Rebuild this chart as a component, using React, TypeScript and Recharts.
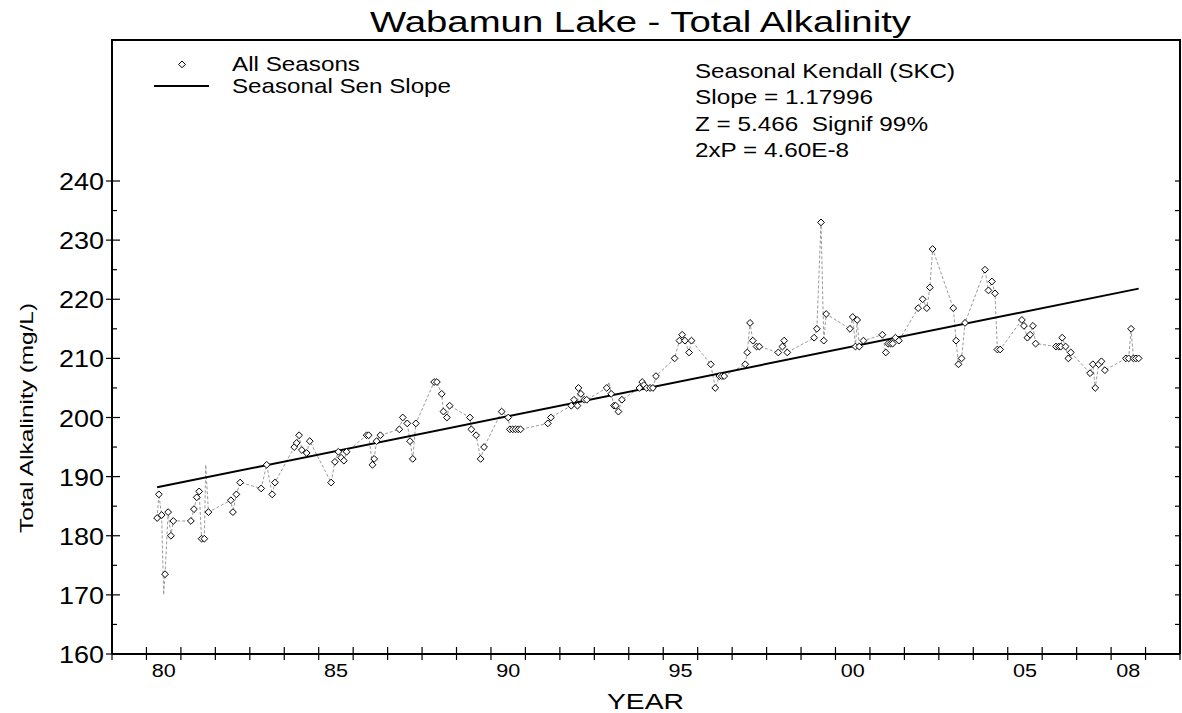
import React from 'react';
import { ComposedChart, Line, Scatter, XAxis, YAxis } from 'recharts';

// sample dates (decimal years) and total alkalinity (mg/L)
const sampleYear = [
  1980.31, 1980.36, 1980.44, 1980.54, 1980.63, 1980.71, 1980.78,
  1981.29, 1981.38, 1981.46, 1981.53, 1981.6, 1981.68, 1981.8,
  1982.45, 1982.51, 1982.61, 1982.72,
  1983.33, 1983.49, 1983.65, 1983.73,
  1984.29, 1984.36, 1984.43, 1984.51, 1984.65, 1984.74,
  1985.36, 1985.47, 1985.57, 1985.65, 1985.73, 1985.81,
  1986.39, 1986.45, 1986.56, 1986.61, 1986.68, 1986.79,
  1987.34, 1987.44, 1987.57, 1987.65, 1987.73, 1987.82,
  1988.35, 1988.43, 1988.57, 1988.62, 1988.72, 1988.8,
  1989.39, 1989.43, 1989.57, 1989.7, 1989.8,
  1990.31, 1990.5, 1990.55, 1990.63, 1990.71, 1990.79, 1990.86,
  1991.65, 1991.74,
  1992.33, 1992.41, 1992.51, 1992.54, 1992.61, 1992.71, 1992.78,
  1993.36, 1993.49, 1993.57, 1993.62, 1993.7, 1993.8,
  1994.31, 1994.39, 1994.44, 1994.52, 1994.62, 1994.7, 1994.79,
  1995.33, 1995.47, 1995.55, 1995.63, 1995.75, 1995.82,
  1996.38, 1996.51, 1996.63, 1996.7, 1996.77,
  1997.38, 1997.44, 1997.52, 1997.6, 1997.71, 1997.79,
  1998.34, 1998.46, 1998.51, 1998.6,
  1999.38, 1999.46, 1999.58, 1999.66, 1999.73,
  2000.42, 2000.5, 2000.58, 2000.63, 2000.69, 2000.81,
  2001.36, 2001.46, 2001.53, 2001.6, 2001.66, 2001.74, 2001.84,
  2002.4, 2002.53, 2002.65, 2002.74, 2002.82,
  2003.42, 2003.5, 2003.57, 2003.66, 2003.76,
  2004.34, 2004.44, 2004.54, 2004.63, 2004.7, 2004.78,
  2005.41, 2005.47, 2005.57, 2005.65, 2005.73, 2005.81,
  2006.4, 2006.48, 2006.54, 2006.58, 2006.68, 2006.76, 2006.83,
  2007.39, 2007.47, 2007.54, 2007.64, 2007.72, 2007.82,
  2008.43, 2008.51, 2008.58, 2008.65, 2008.72, 2008.8,
];

const sampleValue = [
  183, 187, 183.5, 173.5, 184, 180, 182.5,
  182.5, 184.5, 186.5, 187.5, 179.5, 179.5, 184,
  186, 184, 187, 189,
  188, 192, 187, 189,
  195, 195.7, 197, 194.5, 194, 196,
  189, 192.5, 194.2, 193.2, 192.7, 194.2,
  197, 197, 192, 193, 196, 197,
  198, 200, 199, 196, 193, 199,
  206, 206, 204, 201, 200, 202,
  200, 198, 197, 193, 195,
  201, 200, 198, 198, 198, 198, 198,
  199, 200,
  202, 203, 202, 205, 204, 203, 203,
  205, 204, 202, 202, 201, 203,
  205, 206, 205.5, 205, 205, 205, 207,
  210, 213, 214, 213, 211, 213,
  209, 205, 207, 207, 207,
  209, 211, 216, 213, 212, 212,
  211, 212, 213, 211,
  213.5, 215, 233, 213, 217.5,
  215, 217, 212, 216.5, 212, 213,
  214, 211, 212.5, 212.5, 212.5, 213.5, 213,
  218.5, 220, 218.5, 222, 228.5,
  218.5, 213, 209, 210, 216,
  225, 221.5, 223, 221, 211.5, 211.5,
  216.5, 215.5, 213.5, 214, 215.5, 212.5,
  212, 212, 212, 213.5, 212, 210, 211,
  207.5, 209, 205, 209, 209.5, 208,
  210, 210, 215, 210, 210, 210,
];

// places where the dashed trace reaches without a marker
const trailOnlyYear = [1980.5, 1981.72, 1993.43];
const trailOnlyValue = [170, 192, 206];

// seasonal Sen slope trend line (slope 1.17996 / yr)
const senYear = [1980.31, 2008.8];
const senValue = [188.2, 221.8];

const yearBoundaries = [
  1979, 1980, 1981, 1982, 1983, 1984, 1985, 1986, 1987, 1988, 1989, 1990,
  1991, 1992, 1993, 1994, 1995, 1996, 1997, 1998, 1999, 2000, 2001, 2002,
  2003, 2004, 2005, 2006, 2007, 2008, 2009, 2010,
];
const labelYears = [1980, 1985, 1990, 1995, 2000, 2005, 2008];
const yearLabels = ['80', '85', '90', '95', '00', '05', '08'];
const valueTicks = [160, 165, 170, 175, 180, 185, 190, 195, 200, 205, 210, 215, 220, 225, 230, 235, 240];
const valueLabels = [160, 170, 180, 190, 200, 210, 220, 230, 240];

const FONT = '"Liberation Sans", Arial, Helvetica, sans-serif';

const markers = sampleYear.map((x, i) => ({ x, y: sampleValue[i] }));
const trail = [
  ...markers,
  ...trailOnlyYear.map((x, i) => ({ x, y: trailOnlyValue[i] })),
].sort((a, b) => a.x - b.x);
const senLine = senYear.map((x, i) => ({ x, y: senValue[i] }));
const labelCenters = labelYears.map((y) => y + 0.5);

const Diamond = (props: any) => {
  const { cx, cy } = props;
  if (cx == null || cy == null) return <g />;
  const r = 3.4;
  return (
    <polygon
      points={`${cx},${cy - r} ${cx + r},${cy} ${cx},${cy + r} ${cx - r},${cy}`}
      fill="#fff"
      stroke="#000"
      strokeWidth={1}
    />
  );
};

const BottomTick = (props: any) => {
  const { x, y, payload } = props;
  const li = labelCenters.indexOf(payload.value);
  if (li >= 0) {
    return (
      <text x={x} y={y + 23} textAnchor="middle" fontFamily={FONT} fontSize={19} fill="#000"
        textLength={24} lengthAdjust="spacingAndGlyphs">
        {yearLabels[li]}
      </text>
    );
  }
  return <line x1={x} x2={x} y1={y - 7} y2={y + 6} stroke="#000" strokeWidth={1.2} />;
};

const TopTick = (props: any) => {
  const { x, y } = props;
  return <line x1={x} x2={x} y1={y - 5} y2={y + 6} stroke="#000" strokeWidth={1.2} />;
};

const LeftTick = (props: any) => {
  const { x, y, payload } = props;
  const major = valueLabels.includes(payload.value);
  return (
    <g>
      <line x1={major ? x - 6 : x} x2={x + (major ? 8 : 5)} y1={y} y2={y} stroke="#000" strokeWidth={1.2} />
      {major && (
        <text x={x - 8} y={y + 9} textAnchor="end" fontFamily={FONT} fontSize={23} fill="#000"
          textLength={45} lengthAdjust="spacingAndGlyphs">
          {payload.value}
        </text>
      )}
    </g>
  );
};

const RightTick = (props: any) => {
  const { x, y } = props;
  return <line x1={x - 5} x2={x} y1={y} y2={y} stroke="#000" strokeWidth={1.2} />;
};

const Label = (p: any) => (
  <text fontFamily={FONT} fill="#000" lengthAdjust="spacingAndGlyphs" style={{ whiteSpace: 'pre' }} {...p} />
);

export default function App() {
  return (
    <div style={{ position: 'absolute', left: 0, top: 0, width: 1182, height: 713, background: '#fff' }}>
      <ComposedChart width={1182} height={713} margin={{ top: 181, right: 0, bottom: 0, left: 0 }}>
        <XAxis
          xAxisId="bottom"
          dataKey="x"
          type="number"
          domain={[1979, 2010]}
          ticks={[...yearBoundaries, ...labelCenters]}
          interval={0}
          height={59}
          tickSize={0}
          tickMargin={0}
          tickLine={false}
          axisLine={{ stroke: '#000', strokeWidth: 2 }}
          tick={(p: any) => <BottomTick {...p} />}
          allowDataOverflow
        />
        <XAxis
          xAxisId="top"
          orientation="top"
          dataKey="x"
          type="number"
          domain={[1979, 2010]}
          ticks={yearBoundaries}
          interval={0}
          height={0}
          tickSize={0}
          tickMargin={0}
          tickLine={false}
          axisLine={{ stroke: '#000', strokeWidth: 1.5 }}
          tick={(p: any) => <TopTick {...p} />}
          allowDataOverflow
        />
        <YAxis
          yAxisId="left"
          dataKey="y"
          type="number"
          domain={[160, 240]}
          ticks={valueTicks}
          interval={0}
          width={112}
          tickSize={0}
          tickMargin={0}
          tickLine={false}
          axisLine={{ stroke: '#000', strokeWidth: 2 }}
          tick={(p: any) => <LeftTick {...p} />}
          allowDataOverflow
        />
        <YAxis
          yAxisId="right"
          orientation="right"
          dataKey="y"
          type="number"
          domain={[160, 240]}
          ticks={valueTicks}
          interval={0}
          width={2}
          tickSize={0}
          tickMargin={0}
          tickLine={false}
          axisLine={{ stroke: '#000', strokeWidth: 2 }}
          tick={(p: any) => <RightTick {...p} />}
          allowDataOverflow
        />
        <Line
          data={trail}
          dataKey="y"
          xAxisId="bottom"
          yAxisId="right"
          type="linear"
          stroke="#9a9a9a"
          strokeWidth={1}
          strokeDasharray="3 2"
          dot={false}
          activeDot={false}
          isAnimationActive={false}
        />
        <Line
          data={senLine}
          dataKey="y"
          xAxisId="top"
          yAxisId="left"
          type="linear"
          stroke="#000"
          strokeWidth={2}
          dot={false}
          activeDot={false}
          isAnimationActive={false}
        />
        <Scatter
          data={markers}
          dataKey="y"
          xAxisId="bottom"
          yAxisId="left"
          shape={(p: any) => <Diamond {...p} />}
          isAnimationActive={false}
        />
      </ComposedChart>

      {/* legend / statistics box above the plot */}
      <div
        style={{
          position: 'absolute',
          left: 111,
          top: 39,
          width: 1070,
          height: 143,
          boxSizing: 'border-box',
          borderTop: '2px solid #000',
          borderLeft: '2px solid #000',
          borderRight: '2px solid #000',
        }}
      />

      <svg
        width={1182}
        height={713}
        style={{ position: 'absolute', left: 0, top: 0, pointerEvents: 'none' }}
      >
        <Label x={370} y={32} fontSize={30} textLength={541}>Wabamun Lake - Total Alkalinity</Label>

        <polygon points="182,61 185.4,64.4 182,67.8 178.6,64.4" fill="#fff" stroke="#000" strokeWidth={1} />
        <Label x={232} y={71} fontSize={21} textLength={128}>All Seasons</Label>
        <line x1={154} x2={209} y1={86} y2={86} stroke="#000" strokeWidth={2} />
        <Label x={232} y={93} fontSize={21} textLength={219}>Seasonal Sen Slope</Label>

        <Label x={695} y={78} fontSize={21} textLength={260}>Seasonal Kendall (SKC)</Label>
        <Label x={695} y={104} fontSize={21} textLength={178}>Slope = 1.17996</Label>
        <Label x={695} y={130.5} fontSize={21} textLength={233}>{'Z = 5.466  Signif 99%'}</Label>
        <Label x={695} y={157} fontSize={21} textLength={154}>2xP = 4.60E-8</Label>

        <Label x={607} y={709} fontSize={22} textLength={77}>YEAR</Label>
        <Label
          x={0}
          y={0}
          transform="translate(33,533) rotate(-90)"
          fontSize={19}
          textLength={230}
        >
          Total Alkalinity (mg/L)
        </Label>
      </svg>
    </div>
  );
}
